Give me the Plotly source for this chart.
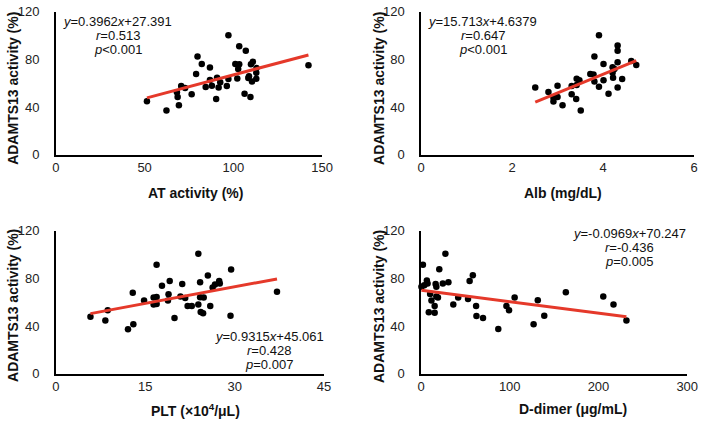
import plotly.graph_objects as go

W, H = 709, 428

# ---------------- data ----------------
at_activity = [51.3, 62.3, 68.2, 68.6, 69.3, 70.6, 72.8, 76.5, 79.0, 79.8, 82.2, 84.4, 86.8, 86.8,
               87.9, 90.3, 90.8, 91.7, 92.6, 96.3, 97.2, 97.2, 101.1, 102.2, 103.3, 103.3, 102.7,
               106.3, 107.0, 108.8, 108.4, 109.6, 109.9, 111.0, 110.5, 112.9, 112.9, 113.0, 142.3]
at_adamts = [44.8, 37.0, 52.4, 48.4, 41.4, 57.6, 56.0, 50.8, 67.8, 82.4, 76.2, 56.8, 73.2, 62.7,
             57.8, 46.8, 64.6, 56.5, 60.8, 57.6, 100.3, 63.5, 76.2, 64.0, 91.0, 76.0, 71.9,
             51.1, 87.3, 65.9, 64.3, 48.4, 76.0, 78.1, 61.4, 68.7, 63.8, 72.7, 75.2]

alb = [2.51, 2.80, 3.00, 2.91, 2.91, 3.00, 3.11, 3.31, 3.31, 3.42, 3.42, 3.41, 3.51, 3.48, 3.72,
       3.81, 3.79, 3.81, 3.91, 3.91, 4.01, 4.01, 4.12, 4.21, 4.21, 4.22, 4.32, 4.32, 4.32, 4.32,
       4.42, 4.62, 4.73, 4.25]
alb_adamts = [56.5, 52.7, 57.8, 47.8, 44.6, 48.4, 41.4, 57.6, 50.8, 63.8, 58.6, 46.8, 37.0, 62.4,
              67.8, 82.4, 67.3, 61.4, 100.3, 57.0, 76.2, 62.4, 51.1, 73.5, 68.7, 64.6, 91.6, 87.3,
              77.6, 56.5, 63.5, 78.6, 75.4, 72.0]

plt_count = [5.8, 8.3, 8.7, 12.1, 13.0, 12.9, 14.8, 16.4, 16.4, 16.9, 16.9, 16.9, 17.8, 18.8, 18.9,
             19.1, 19.9, 20.9, 21.2, 21.7, 22.1, 22.8, 23.9, 23.9, 24.2, 24.2, 24.3, 24.7, 24.8,
             25.5, 25.9, 26.3, 26.7, 27.4, 27.5, 29.4, 29.3, 37.1]
plt_adamts = [47.8, 44.6, 53.2, 37.3, 41.6, 68.1, 61.4, 64.0, 58.1, 91.6, 64.5, 58.6, 73.8, 61.4, 66.7,
              77.8, 46.8, 64.9, 75.4, 63.5, 56.8, 56.8, 100.8, 58.1, 76.8, 64.3, 51.9, 50.8, 64.0,
              82.4, 56.8, 72.4, 74.9, 77.8, 75.7, 87.6, 48.6, 68.9]

ddimer = [0.5, 2.2, 3.7, 6.6, 7.4, 8.8, 10.3, 11.8, 15.4, 15.4, 16.5, 17.3, 17.3, 19.1, 20.6, 24.6,
          27.5, 30.9, 36.4, 41.9, 53.0, 54.8, 58.4, 62.1, 62.5, 69.9, 87.1, 96.3, 99.2, 105.5,
          126.9, 131.6, 138.9, 163.2, 205.4, 216.9, 231.5]
dd_adamts = [73.0, 91.6, 74.3, 78.4, 75.7, 51.6, 67.0, 61.4, 51.1, 56.8, 75.4, 73.0, 64.9, 64.0,
             87.8, 75.7, 100.8, 76.8, 58.1, 64.0, 62.7, 77.8, 82.7, 56.8, 48.4, 46.8, 37.5, 56.8,
             53.2, 64.0, 41.6, 61.6, 48.6, 68.4, 64.9, 58.1, 44.6]

# regression equations (slope, intercept) and stats text
fits = [(0.3962, 27.391), (15.713, 4.6379), (0.9315, 45.061), (-0.0969, 70.247)]
eq_text = [
    ["<i>y</i>=0.3962<i>x</i>+27.391", "<i>r</i>=0.513", "<i>p</i>&lt;0.001"],
    ["<i>y</i>=15.713<i>x</i>+4.6379", "<i>r</i>=0.647", "<i>p</i>&lt;0.001"],
    ["<i>y</i>=0.9315<i>x</i>+45.061", "<i>r</i>=0.428", "<i>p</i>=0.007"],
    ["<i>y</i>=-0.0969<i>x</i>+70.247", "<i>r</i>=-0.436", "<i>p</i>=0.005"],
]
x_titles = ["AT activity (%)", "Alb (mg/dL)", "PLT (\u00d710<sup>4</sup>/\u03bcL)", "D-dimer (\u03bcg/mL)"]
y_title = "ADAMTS13 activity (%)"
x_ranges = [(0, 150, 50), (0, 6, 2), (0, 45, 15), (0, 300, 100)]
y_range = (0, 120, 40)

datasets = [(at_activity, at_adamts), (alb, alb_adamts), (plt_count, plt_adamts), (ddimer, dd_adamts)]

# ---------------- layout geometry (pixels) ----------------
def fx(px):
    return px / W

def fy(py):
    return 1 - py / H

panels = [
    dict(x0=53, x1=325, y0=153, y1=5),
    dict(x0=426, x1=705, y0=153, y1=5),
    dict(x0=53, x1=327, y0=380, y1=232),
    dict(x0=426, x1=698, y0=380, y1=232),
]
eq_pos = [(116, [15, 29.5, 44]), (489, [15, 29.5, 44]), (271, [341, 355.5, 370]), (639, [235, 249.5, 264])]
xt_pos = [(196, 193), (571, 193), (196, 418), (581, 417)]
yt_pos = [(9, 84), (383, 84), (9, 309), (383, 310)]

FONT = "Arial, Liberation Sans, sans-serif"
RED = "#E5392A"

fig = go.Figure()
annotations = []
for i, ((xs, ys), (m, b)) in enumerate(zip(datasets, fits)):
    n = "" if i == 0 else str(i + 1)
    fig.add_trace(go.Scatter(x=xs, y=ys, mode="markers", xaxis="x" + n, yaxis="y" + n,
                             marker=dict(color="black", size=6.5), cliponaxis=False,
                             showlegend=False))
    xl = [min(xs), max(xs)]
    fig.add_trace(go.Scatter(x=xl, y=[m * v + b for v in xl], mode="lines",
                             xaxis="x" + n, yaxis="y" + n,
                             line=dict(color=RED, width=3), cliponaxis=False, showlegend=False))
    p = panels[i]
    lo, hi, dt = x_ranges[i]
    axis_common = dict(showline=True, linecolor="black", linewidth=1.5, showgrid=False,
                       zeroline=False, ticks="", tickfont=dict(family=FONT, size=13, color="#222"),
                       fixedrange=True)
    fig.layout["xaxis" + n] = dict(domain=[fx(p["x0"]), fx(p["x1"])], range=[lo, hi], dtick=dt,
                                   tick0=0, anchor="y" + n, ticklabelstandoff=0, **axis_common)
    fig.layout["yaxis" + n] = dict(domain=[fy(p["y0"]), fy(p["y1"])], range=[y_range[0], y_range[1]],
                                   dtick=y_range[2], tick0=0, anchor="x" + n,
                                   ticklabelstandoff=12, **axis_common)
    cx, lines_y = eq_pos[i]
    for t, ly in zip(eq_text[i], lines_y):
        annotations.append(dict(x=fx(cx), y=fy(ly), xref="paper", yref="paper", text=t,
                                showarrow=False, xanchor="center", yanchor="middle",
                                font=dict(family=FONT, size=13, color="#111")))
    tx, ty = xt_pos[i]
    annotations.append(dict(x=fx(tx), y=fy(ty), xref="paper", yref="paper",
                            text="<b>" + x_titles[i] + "</b>", showarrow=False,
                            xanchor="center", yanchor="middle",
                            font=dict(family=FONT, size=14, color="#111")))
    yx, yy = yt_pos[i]
    annotations.append(dict(x=fx(yx), y=fy(yy), xref="paper", yref="paper",
                            text="<b>" + y_title + "</b>", showarrow=False, textangle=-90,
                            xanchor="center", yanchor="middle",
                            font=dict(family=FONT, size=14, color="#111")))

fig.update_layout(width=W, height=H, margin=dict(l=0, r=0, t=0, b=0),
                  paper_bgcolor="white", plot_bgcolor="white", annotations=annotations,
                  showlegend=False)

fig.write_html("out.html", config={"displayModeBar": False},
               post_script="document.body.style.margin='0';document.body.style.overflow='hidden';")
